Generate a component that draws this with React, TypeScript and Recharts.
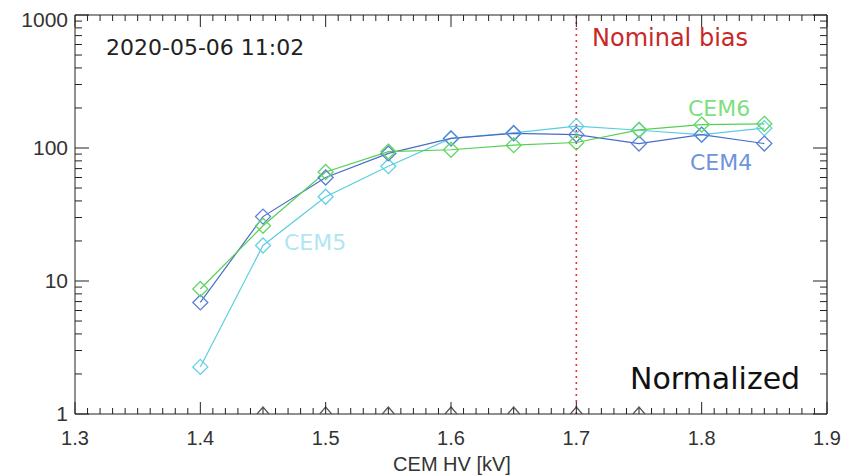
import { LineChart, Line, XAxis, YAxis, ReferenceLine } from "recharts";

const voltages = [1.4, 1.45, 1.5, 1.55, 1.6, 1.65, 1.7, 1.75, 1.8, 1.85];
const cem4 = [6.9, 30.5, 60, 91, 118, 129, 126, 108, 126, 108];
const cem5 = [2.26, 18.5, 43, 73, 118, 130, 146, 136, 126, 141];
const cem6 = [8.7, 26, 66, 94, 97, 105, 110, 137, 150, 152];
const baseMarks = [null, 1, 1, 1, 1, 1, 1, 1, null, null];

const xMajorTicks = [1.3, 1.4, 1.5, 1.6, 1.7, 1.8, 1.9];
const yMajorTicks = [1, 10, 100, 1000];
const nominalBias = 1.7;

const data = voltages.map((v, i) => ({
  hv: v,
  cem4: cem4[i],
  cem5: cem5[i],
  cem6: cem6[i],
  base: baseMarks[i],
}));

const xTicks: number[] = [];
for (let i = 0; i <= 60; i++) xTicks.push(Math.round(130 + i) / 100);
const yTicks: number[] = [];
for (const d of [1, 10, 100]) for (let m = 1; m <= 9; m++) yTicks.push(d * m);
yTicks.push(1000);

const isMajorX = (v: number) => xMajorTicks.some((t) => Math.abs(t - v) < 1e-6);
const isMajorY = (v: number) => yMajorTicks.includes(v);

// plot box inside the 856 x 468 chart
const box = { left: 67, right: 819, top: 7, bottom: 406 };
const xPix = (v: number) => box.left + ((v - 1.3) / 0.6) * (box.right - box.left);
const yPix = (v: number) => box.bottom - (Math.log10(v) / 3) * (box.bottom - box.top);

const tickFont = "'Liberation Sans', Arial, sans-serif";

// inward ticks on bottom
const renderXTick = (p: any) => {
  const major = isMajorX(p.payload.value);
  return (
    <g>
      <line x1={p.x} x2={p.x} y1={p.y} y2={p.y - (major ? 12 : 6)} stroke="#222" />
      {major && (
        <text x={p.x} y={p.y + 31} textAnchor="middle" fontSize={20} fill="#333" fontFamily={tickFont}>
          {p.payload.value.toFixed(1)}
        </text>
      )}
    </g>
  );
};

// inward ticks on left
const renderYTick = (p: any) => {
  const v = p.payload.value;
  const major = isMajorY(v);
  return (
    <g>
      <line x1={p.x} x2={p.x + (major ? 14 : 7)} y1={p.y} y2={p.y} stroke="#222" />
      {major && (
        <text x={p.x - 7} y={p.y + (v === 1000 ? 12 : 7)} textAnchor="end" fontSize={21} fill="#333" fontFamily={tickFont}>
          {v}
        </text>
      )}
    </g>
  );
};

const diamond = (color: string) => (p: any) => {
  const { cx, cy, index } = p;
  if (cx == null || cy == null) return <g key={index} />;
  const r = 7.5;
  return (
    <path
      key={index}
      d={`M${cx},${cy - r}L${cx + r},${cy}L${cx},${cy + r}L${cx - r},${cy}Z`}
      fill="none"
      stroke={color}
      strokeWidth={1.3}
    />
  );
};

const triangle = (p: any) => {
  const { cx, cy, index, value } = p;
  if (cx == null || cy == null || value == null) return <g key={index} />;
  return (
    <path
      key={index}
      d={`M${cx - 6},${cy}L${cx},${cy - 7}L${cx + 6},${cy}`}
      fill="none"
      stroke="#555"
      strokeWidth={1.2}
    />
  );
};

const txt = "'DejaVu Sans', sans-serif";

export default function App() {
  return (
    <div style={{ position: "relative", width: 856, height: 468 }}>
      <LineChart width={856} height={468} data={data} margin={{ top: 7, right: 37, bottom: 22, left: 7 }}>
        <XAxis
          dataKey="hv"
          type="number"
          domain={[1.3, 1.9]}
          ticks={xTicks}
          interval={0}
          tickSize={0}
          tickMargin={0}
          height={40}
          tick={renderXTick}
          stroke="#222"
        />
        <YAxis
          type="number"
          scale="log"
          domain={[1, 1000]}
          ticks={yTicks}
          interval={0}
          tickSize={0}
          tickMargin={0}
          width={60}
          tick={renderYTick}
          stroke="#222"
        />
        <ReferenceLine y={1000} stroke="#222" strokeWidth={1.2} />
        <ReferenceLine x={1.9} stroke="#222" strokeWidth={1.2} />
        <ReferenceLine x={nominalBias} stroke="#d63a3a" strokeWidth={1.6} strokeDasharray="2 4" />
        <Line dataKey="cem5" stroke="#5ccde0" strokeWidth={1.2} dot={diamond("#62d0e6")} isAnimationActive={false} />
        <Line dataKey="cem4" stroke="#4a6cc8" strokeWidth={1.2} dot={diamond("#5b7fd8")} isAnimationActive={false} />
        <Line dataKey="cem6" stroke="#55d055" strokeWidth={1.2} dot={diamond("#62d862")} isAnimationActive={false} />
        <Line dataKey="base" stroke="none" dot={triangle} isAnimationActive={false} />
      </LineChart>
      <svg
        width={856}
        height={468}
        style={{ position: "absolute", left: 0, top: 0, overflow: "visible", pointerEvents: "none" }}
      >
        {/* mirrored inward ticks on the top and right frame edges */}
        {xTicks.map((v) => (
          <line
            key={`t${v}`}
            x1={xPix(v)}
            x2={xPix(v)}
            y1={box.top}
            y2={box.top + (isMajorX(v) ? 12 : 6)}
            stroke="#222"
          />
        ))}
        {yTicks.map((v) => (
          <line
            key={`r${v}`}
            x1={box.right}
            x2={box.right - (isMajorY(v) ? 14 : 7)}
            y1={yPix(v)}
            y2={yPix(v)}
            stroke="#222"
          />
        ))}
        <text x={98} y={47} fontSize={22} fill="#222" fontFamily={txt}>2020-05-06 11:02</text>
        <text x={584} y={38} fontSize={24} fill="#c82828" fontFamily={txt}>Nominal bias</text>
        <text x={622} y={381} fontSize={30} fill="#111" fontFamily={txt}>Normalized</text>
        <text x={680} y={108} fontSize={22} fill="#7ddf7d" fontFamily={txt}>CEM6</text>
        <text x={682} y={162} fontSize={22} fill="#6e94dc" fontFamily={txt}>CEM4</text>
        <text x={276} y={242} fontSize={22} fill="#b0e6f2" fontFamily={txt}>CEM5</text>
        <text x={444} y={463} fontSize={20} fill="#333" textAnchor="middle" fontFamily={tickFont}>CEM HV [kV]</text>
        <text x={-6} y={312} fontSize={20} fill="#333" fontFamily={tickFont} transform="rotate(-90 -6 312)">
          C_cem_count_normal
        </text>
      </svg>
    </div>
  );
}
